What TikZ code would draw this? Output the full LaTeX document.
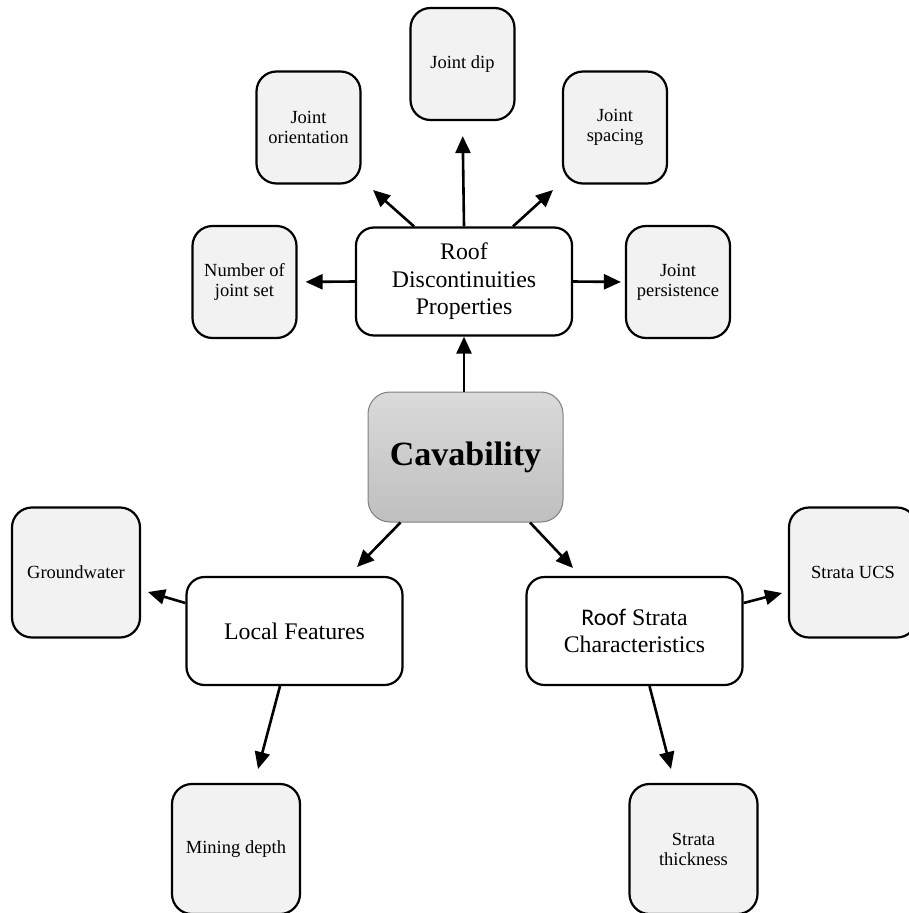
\documentclass[tikz,border=0pt]{standalone}
\usepackage{fontspec}
\setmainfont{Liberation Serif}
\newfontfamily\calibri{Carlito}
\usetikzlibrary{arrows.meta}
\definecolor{leaffill}{HTML}{F2F2F2}
\definecolor{cavtop}{HTML}{DADADA}
\definecolor{cavbot}{HTML}{BFBFBF}
\definecolor{cavline}{HTML}{7F7F7F}
\begin{document}
\begin{tikzpicture}[x=1pt,y=-1pt,
  leaf/.style={draw=black, line width=2.2pt, fill=leaffill, rounded corners=20pt,
    minimum width=104pt, minimum height=112pt, align=center, inner sep=0pt,
    font=\fontsize{18.5}{20}\selectfont},
  bigleaf/.style={leaf, minimum width=128pt, minimum height=130pt},
  mid/.style={draw=black, line width=2.2pt, fill=white, rounded corners=18pt,
    minimum width=216pt, minimum height=108pt, align=center, inner sep=0pt,
    font=\fontsize{23.8}{27.5}\selectfont},
  arr/.style={line width=2.6pt, -{Triangle[length=17pt,width=15pt]}}]
\useasboundingbox (0,0) rectangle (909,913);
\clip (0,0) rectangle (909,913);

% central node
\node[draw=cavline, line width=1pt, rounded corners=22pt, top color=cavtop, bottom color=cavbot,
  minimum width=195pt, minimum height=130pt, inner sep=0pt,
  font=\fontsize{34}{38}\selectfont\bfseries] (cav) at (465.5,457) {Cavability};

% mid nodes
\node[mid] (rdp) at (464,281.5) {Roof\\Discontinuities\\Properties};
\node[mid] (lf)  at (294.5,631) {Local Features};
\node[mid] (rsc) at (634.5,631) {{\calibri Roof} Strata\\Characteristics};

% top leaves
\node[leaf] (dip)    at (462.5,64)  {Joint dip};
\node[leaf] (orient) at (308.5,127.5) {Joint\\orientation};
\node[leaf] (spac)   at (615,127.5) {Joint\\spacing};
\node[leaf] (nset)   at (244.5,282) {Number of\\joint set};
\node[leaf] (pers)   at (678,282) {Joint\\persistence};

% bottom leaves
\node[bigleaf] (gw)  at (76,572.5)  {Groundwater};
\node[bigleaf] (ucs) at (853,572.5) {Strata UCS};
\node[bigleaf] (md)  at (236,849)   {Mining depth};
\node[bigleaf] (st)  at (693.5,849) {Strata\\thickness};

% arrow tips
\coordinate (tOrient) at (373,190);
\coordinate (tSpac)   at (553,190);
\coordinate (tLf)     at (357,567);
\coordinate (tRsc)    at (573,568);
\coordinate (tGw)     at (148,592);
\coordinate (tMd)     at (258,769);
\coordinate (tUcs)    at (782,593);
\coordinate (tSt)     at (671,769);

% connectors
\draw[arr] (rdp.south |- cav.north) -- (rdp.south);
\draw[arr, shorten >=8pt] (rdp.west) -- (nset.east);
\draw[arr, shorten >=4pt] (rdp.east) -- (pers.west);
\draw[arr, shorten >=15pt] (rdp.north) -- (dip.south);
\draw[arr] ([xshift=-50pt]rdp.north) -- (tOrient);
\draw[arr] ([xshift=49pt]rdp.north) -- (tSpac);
\draw[arr] ([xshift=-65pt]cav.south) -- (tLf);
\draw[arr] ([xshift=64.5pt]cav.south) -- (tRsc);
\draw[arr] ([yshift=28pt]lf.west) -- (tGw);
\draw[arr] ([xshift=-14.5pt]lf.south) -- (tMd);
\draw[arr] ([yshift=28pt]rsc.east) -- (tUcs);
\draw[arr] ([xshift=15pt]rsc.south) -- (tSt);
\end{tikzpicture}
\end{document}
